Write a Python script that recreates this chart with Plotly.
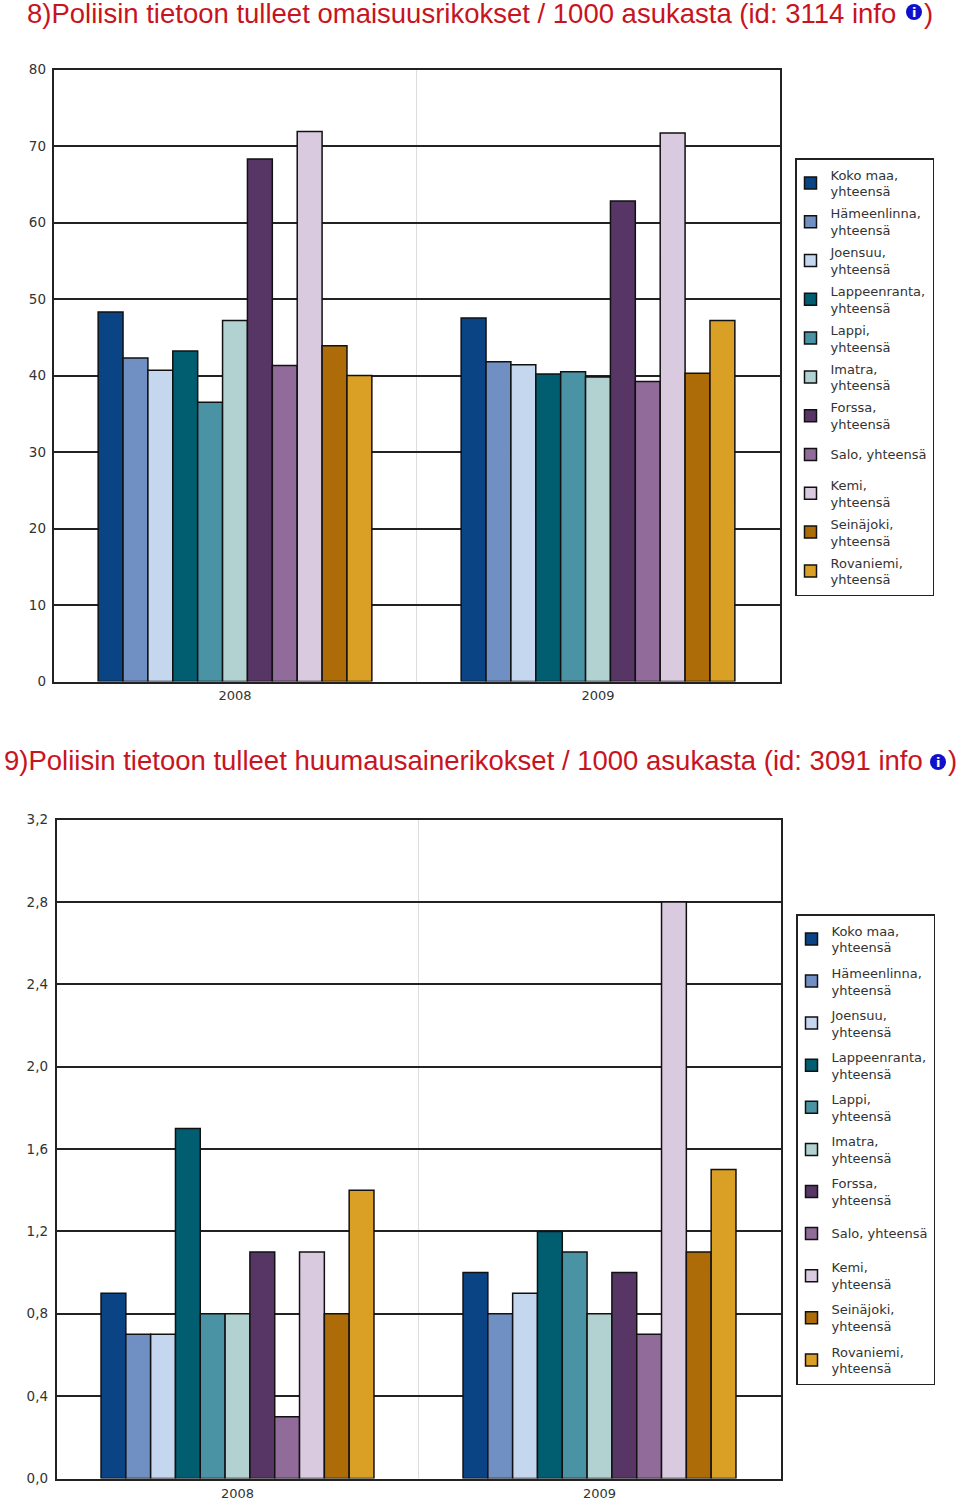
import plotly.graph_objects as go

years = ["2008", "2009"]
series = ["Koko maa,<br>yhteensä", "Hämeenlinna,<br>yhteensä", "Joensuu,<br>yhteensä",
          "Lappeenranta,<br>yhteensä", "Lappi,<br>yhteensä", "Imatra,<br>yhteensä",
          "Forssa,<br>yhteensä", "<span style='baseline-shift:-8px'>Salo, yhteensä</span><br>&nbsp;",
          "Kemi,<br>yhteensä", "Seinäjoki,<br>yhteensä", "Rovaniemi,<br>yhteensä"]
colors = ["#0a4485", "#7090c4", "#c5d6ef", "#015e70", "#4a93a5", "#b2d1d1",
          "#573565", "#916b99", "#dacae0", "#ad6c07", "#daa025"]
crime_2008 = [48.3, 42.3, 40.7, 43.2, 36.5, 47.2, 68.3, 41.3, 71.9, 43.9, 40.0]
crime_2009 = [47.5, 41.8, 41.4, 40.2, 40.5, 39.8, 62.8, 39.2, 71.7, 40.3, 47.2]
drug_2008 = [0.9, 0.7, 0.7, 1.7, 0.8, 0.8, 1.1, 0.3, 1.1, 0.8, 1.4]
drug_2009 = [1.0, 0.8, 0.9, 1.2, 1.1, 0.8, 1.0, 0.7, 2.8, 1.1, 1.5]
crime_ticks = [0, 10, 20, 30, 40, 50, 60, 70, 80]
drug_ticks = [0, 0.4, 0.8, 1.2, 1.6, 2.0, 2.4, 2.8, 3.2]
drug_tick_labels = ["0,0", "0,4", "0,8", "1,2", "1,6", "2,0", "2,4", "2,8", "3,2"]
title_8 = "8)Poliisin tietoon tulleet omaisuusrikokset / 1000 asukasta (id: 3114 info"
title_9 = "9)Poliisin tietoon tulleet huumausainerikokset / 1000 asukasta (id: 3091 info"

W, H = 960, 1500
TXT = "#333333"
LBL = dict(family="DejaVu Sans", size=13, color=TXT)
YLBL = dict(family="DejaVu Sans", size=13.5, color=TXT)
RED = "#c8141e"
fig = go.Figure()

for i, name in enumerate(series):
    fig.add_trace(go.Bar(x=years, y=[crime_2008[i], crime_2009[i]], name=name,
                         marker=dict(color=colors[i], line=dict(color="#111111", width=1.5)),
                         xaxis="x", yaxis="y", legend="legend", legendgroup="a%d" % i,
                         hoverinfo="y+name"))
for i, name in enumerate(series):
    fig.add_trace(go.Bar(x=years, y=[drug_2008[i], drug_2009[i]], name=name,
                         marker=dict(color=colors[i], line=dict(color="#111111", width=1.5)),
                         xaxis="x2", yaxis="y2", legend="legend2", legendgroup="b%d" % i,
                         hoverinfo="y+name"))


def xa(x0, x1, anchor, standoff):
    return dict(domain=[x0 / W, x1 / W], anchor=anchor, type="category", range=[-0.5, 1.5],
                showgrid=False, ticks="", tickfont=LBL, showline=True, linecolor="#222222",
                linewidth=1.5, mirror=True, automargin=False, ticklabelstandoff=standoff)


def ya(y_top, y_bot, anchor, rng, tv, tt, standoff):
    return dict(domain=[1 - y_bot / H, 1 - y_top / H], anchor=anchor, range=rng, tickmode="array",
                tickvals=tv, ticktext=tt, showgrid=True, gridcolor="#222222", gridwidth=1.5,
                zeroline=False, ticks="", tickfont=YLBL, showline=True, linecolor="#222222",
                linewidth=1.5, mirror=True, automargin=False, ticklabelstandoff=standoff)


def leg(left, top, gap):
    return dict(x=left / W, y=1 - top / H, xanchor="left", yanchor="top", indentation=-6,
                bgcolor="white", bordercolor="#222222", borderwidth=1.5,
                font=dict(family="DejaVu Sans", size=13, color=TXT),
                tracegroupgap=gap, traceorder="grouped", itemclick=False, itemdoubleclick=False)


def info_shape(cx, cy):
    return dict(type="circle", xref="paper", yref="paper", x0=(cx - 8) / W, x1=(cx + 8) / W,
                y0=1 - (cy + 8) / H, y1=1 - (cy - 8) / H, fillcolor="#1010cc",
                line=dict(width=0))


def grid_shape(xr, yr):
    return dict(type="line", xref=xr, yref=yr + " domain", x0=0.5, x1=0.5, y0=0, y1=1,
                line=dict(color="#dddddd", width=1), layer="below")


def note(text, x, y, anchor="left", size=27.5, color=RED, family="Liberation Sans", bold=False):
    return dict(text=("<b>%s</b>" % text) if bold else text, xref="paper", yref="paper",
                x=x / W, y=1 - y / H, xanchor=anchor, yanchor="middle", showarrow=False,
                font=dict(family=family, size=size, color=color))


fig.update_layout(
    width=W, height=H, autosize=False, margin=dict(l=0, r=0, t=0, b=0),
    paper_bgcolor="white", plot_bgcolor="white", barmode="group", bargap=0.246, bargroupgap=0,
    xaxis=xa(53.5, 779.5, "y", 1),
    yaxis=ya(69.5, 681.5, "x", [0, 80], crime_ticks, [str(t) for t in crime_ticks], 3),
    xaxis2=xa(56.5, 780.5, "y2", 2),
    yaxis2=ya(819.5, 1478.5, "x2", [0, 3.2], drug_ticks, drug_tick_labels, 4),
    legend=leg(795, 158, 2.0), legend2=leg(796, 914, 5.3),
    shapes=[grid_shape("x", "y"), grid_shape("x2", "y2"), info_shape(914, 12), info_shape(938, 762)],
    annotations=[
        note(title_8, 25, 14), note(")", 935, 14, "right"),
        note(title_9, 2, 760), note(")", 959, 760, "right"),
        note("i", 914, 12, "center", 13, "white", "DejaVu Sans", True),
        note("i", 938, 762, "center", 13, "white", "DejaVu Sans", True),
    ],
)
fig.write_html("out.html", config={"displayModeBar": False},
               post_script="document.body.style.margin='0';")
